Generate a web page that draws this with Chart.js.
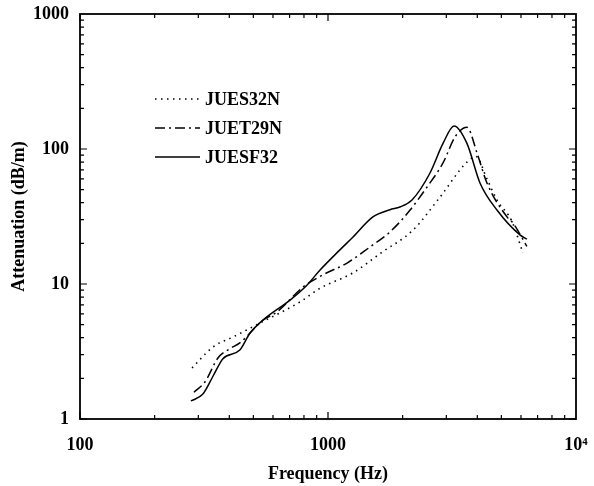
<!DOCTYPE html>
<html>
<head>
<meta charset="utf-8">
<script src="https://cdn.jsdelivr.net/npm/chart.js@4.4.1/dist/chart.umd.min.js"></script>
<style>
  html, body { margin: 0; padding: 0; background: #fff; }
  #wrap { width: 594px; height: 486px; }
</style>
</head>
<body>
<div id="wrap"><canvas id="AttenuationChart" width="594" height="486"></canvas></div>
<script>
// values (log-log)
const seriesNames = ['JUES32N', 'JUET29N', 'JUESF32']

const freqES32N = [283, 344, 414, 532, 771, 929, 1262, 1637, 2203, 2830, 3633, 3950, 4375, 4800, 5520, 6110]
const attnES32N = [2.39, 3.42, 4.05, 5.14, 7.36, 9.3, 12.1, 17.0, 25.1, 44.1, 80, 88, 60, 42, 29, 17]

const freqET29N = [288, 319, 360, 400, 441, 547, 622, 793, 955, 1194, 1477, 1778, 2143, 2508, 2909, 3254, 3633, 3990, 4375, 5270, 5570, 6340]
const attnET29N = [1.58, 1.88, 2.83, 3.3, 3.66, 5.4, 6.2, 9.5, 11.7, 14.3, 18.8, 24.3, 35.3, 52.3, 78.8, 123, 145, 93.4, 56, 31.4, 28.3, 19]

const freqESF32 = [280, 313, 345, 377, 441, 485, 547, 703, 822, 929, 1117, 1262, 1517, 1778, 1950, 2181, 2578, 2909, 3224, 3633, 4100, 4800, 5940, 6340]
const attnESF32 = [1.36, 1.53, 2.1, 2.8, 3.24, 4.33, 5.41, 7.6, 9.8, 12.7, 17.9, 22.3, 31.4, 35.5, 37.2, 41.9, 66.4, 110, 148, 110, 56, 35.3, 23.1, 21.5]

const xTickValues = [100, 1000, 10000]
const yTickValues = [1, 10, 100, 1000]

const serif = "'Liberation Serif', 'Times New Roman', serif"
const textSize = 18

function toPoints(xs, ys) {
  return xs.map((x, i) => ({ x: x, y: ys[i] }))
}

// box + inward log ticks on all four sides, legend inside the plot
const frameAndLegend = {
  id: 'frameAndLegend',
  afterDraw(chart) {
    const { ctx, chartArea: a, scales } = chart
    ctx.save()
    ctx.strokeStyle = '#000'
    ctx.lineWidth = 1.8
    ctx.strokeRect(a.left, a.top, a.right - a.left, a.bottom - a.top)

    ctx.lineWidth = 1.2
    ctx.beginPath()
    for (let d = 100; d < 10000; d *= 10) {
      for (let m = 1; m <= 9; m++) {
        const px = scales.x.getPixelForValue(d * m)
        const len = m === 1 ? 7 : 4
        ctx.moveTo(px, a.bottom); ctx.lineTo(px, a.bottom - len)
        ctx.moveTo(px, a.top); ctx.lineTo(px, a.top + len)
      }
    }
    for (let d = 1; d < 1000; d *= 10) {
      for (let m = 1; m <= 9; m++) {
        const py = scales.y.getPixelForValue(d * m)
        const len = m === 1 ? 7 : 4
        ctx.moveTo(a.left, py); ctx.lineTo(a.left + len, py)
        ctx.moveTo(a.right, py); ctx.lineTo(a.right - len, py)
      }
    }
    ctx.stroke()

    // legend
    const rows = [99, 128, 157]
    chart.data.datasets.forEach((ds, i) => {
      ctx.beginPath()
      ctx.lineWidth = ds.borderWidth
      ctx.setLineDash(ds.borderDash || [])
      ctx.moveTo(155, rows[i])
      ctx.lineTo(200, rows[i])
      ctx.stroke()
      ctx.setLineDash([])
      ctx.fillStyle = '#000'
      ctx.font = 'bold ' + textSize + 'px ' + serif
      ctx.textBaseline = 'middle'
      ctx.textAlign = 'left'
      ctx.fillText(ds.label, 205, rows[i] + 1)
    })
    ctx.restore()
  }
}

const ctx = document.getElementById('AttenuationChart')

new Chart(ctx, {
  type: 'line',
  data: {
    datasets: [
      {
        label: seriesNames[0],
        data: toPoints(freqES32N, attnES32N),
        borderColor: '#000',
        borderWidth: 1.6,
        borderDash: [1.5, 4.5],
        pointRadius: 0,
        cubicInterpolationMode: 'monotone',
        fill: false
      },
      {
        label: seriesNames[1],
        data: toPoints(freqET29N, attnET29N),
        borderColor: '#000',
        borderWidth: 1.5,
        borderDash: [10, 4, 2, 4],
        pointRadius: 0,
        cubicInterpolationMode: 'monotone',
        fill: false
      },
      {
        label: seriesNames[2],
        data: toPoints(freqESF32, attnESF32),
        borderColor: '#000',
        borderWidth: 1.5,
        pointRadius: 0,
        cubicInterpolationMode: 'monotone',
        fill: false
      }
    ]
  },
  options: {
    responsive: false,
    animation: false,
    layout: { padding: { top: 14, right: 18, left: 0, bottom: 0 } },
    plugins: {
      legend: { display: false },
      tooltip: { enabled: false },
      title: { display: false }
    },
    scales: {
      x: {
        type: 'logarithmic',
        position: 'bottom',
        min: 100,
        max: 10000,
        afterBuildTicks: (scale) => {
          scale.ticks = xTickValues.map(v => ({ value: v }))
        },
        afterFit: (scale) => {
          scale.height = 67
          scale.paddingLeft = 0
          scale.paddingRight = 0
        },
        grid: { display: false, drawTicks: false },
        border: { display: false },
        ticks: {
          color: '#000',
          padding: 16,
          maxRotation: 0,
          autoSkip: false,
          font: { family: serif, size: textSize, weight: 'bold' },
          callback: (value) => value === 10000 ? '10\u2074' : String(value)
        },
        title: {
          display: true,
          text: 'Frequency (Hz)',
          color: '#000',
          font: { family: serif, size: textSize, weight: 'bold' },
          padding: { top: 0, bottom: 1 }
        }
      },
      y: {
        type: 'logarithmic',
        position: 'left',
        min: 1,
        max: 1000,
        afterBuildTicks: (scale) => {
          scale.ticks = yTickValues.map(v => ({ value: v }))
        },
        afterFit: (scale) => {
          scale.width = 80
          scale.paddingTop = 0
          scale.paddingBottom = 0
        },
        grid: { display: false, drawTicks: false },
        border: { display: false },
        ticks: {
          color: '#000',
          padding: 11,
          autoSkip: false,
          font: { family: serif, size: textSize, weight: 'bold' },
          callback: (value) => String(value)
        },
        title: {
          display: true,
          text: 'Attenuation (dB/m)',
          color: '#000',
          font: { family: serif, size: textSize, weight: 'bold' },
          padding: { top: 9, bottom: 0 }
        }
      }
    }
  },
  plugins: [frameAndLegend]
})
</script>
</body>
</html>
